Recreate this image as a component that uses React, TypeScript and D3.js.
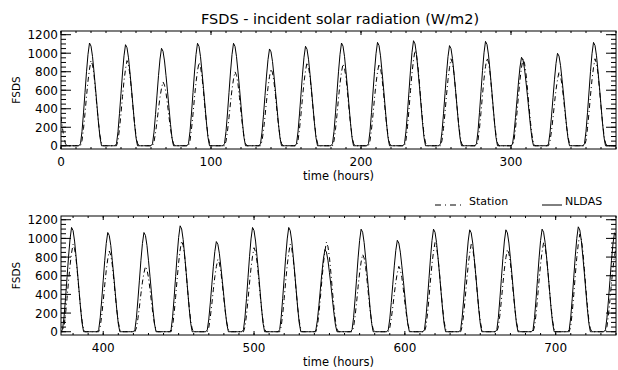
import React from "react";
import * as d3 from "d3";

const W = 618;
const H = 370;

// daily maximum (W/m2), index 0 = tail of the day before hour 0, then one per day
const nldasPeak = [
  0, 1110, 1092, 1053, 1107, 1107, 1046, 1075, 1110, 1117, 1135, 1082, 1128, 956, 999, 1117,
  1117, 1063, 1063, 1135, 966, 1117, 1117, 880, 1099, 980, 1099, 1092, 1092, 1099, 1124, 1060,
];
const stationPeak = [
  700, 920, 920, 690, 900, 800, 830, 900, 885, 885, 1030, 940, 950, 940, 795, 940,
  937, 865, 700, 973, 775, 900, 937, 960, 830, 700, 955, 937, 883, 955, 1045, 900,
];
// fraction of the daily maximum for each hour of the day (0..23)
const nldasShape = [
  0.39, 0.22, 0.08, 0, 0, 0, 0, 0, 0, 0, 0, 0, 0, 0.02, 0.14, 0.32, 0.52, 0.72, 0.89, 1.0, 0.97,
  0.87, 0.72, 0.56,
];
const stationShape = [
  0.45, 0.27, 0.12, 0.03, 0, 0, 0, 0, 0, 0, 0, 0, 0, 0, 0.06, 0.2, 0.38, 0.58, 0.76, 0.9, 1.0,
  0.95, 0.83, 0.65,
];

const yTickValues = [0, 200, 400, 600, 800, 1000, 1200];

const panels = [
  { start: 0, end: 370, top: 31, bottom: 149 },
  { start: 372, end: 740, top: 216, bottom: 335 },
];

const hours = d3.range(0, 744);
const build = (peak: number[], shape: number[]) =>
  hours.map((t) => ({ t, v: peak[Math.floor((t - 8) / 24) + 1] * shape[t % 24] }));

const nldas = build(nldasPeak, nldasShape);
const station = build(stationPeak, stationShape);

const font = "'DejaVu Sans', sans-serif";

const Panel = ({ p, i }: { p: (typeof panels)[0]; i: number }) => {
  const left = 61;
  const right = 616;
  const x = d3.scaleLinear().domain([p.start, p.end]).range([left, right]);
  const y = d3.scaleLinear().domain([-35, 1240]).range([p.bottom, p.top]);
  const line = d3
    .line<{ t: number; v: number }>()
    .x((d) => x(d.t))
    .y((d) => y(d.v));
  const inRange = (d: { t: number }) => d.t >= p.start - 2 && d.t <= p.end + 2;

  const xMajor = d3.range(Math.ceil(p.start / 100) * 100, p.end + 1, 100);
  const xMinor = d3.range(Math.ceil(p.start / 10) * 10, p.end + 1, 10);
  const yMinor = d3.range(0, 1201, 50);

  return (
    <g>
      <defs>
        <clipPath id={`clip${i}`}>
          <rect x={left} y={p.top} width={right - left} height={p.bottom - p.top} />
        </clipPath>
      </defs>
      <g clipPath={`url(#clip${i})`} fill="none" stroke="#000" strokeWidth={1}>
        <path d={line(station.filter(inRange)) || ""} strokeDasharray="5,3,1,3" />
        <path d={line(nldas.filter(inRange)) || ""} />
      </g>
      <rect
        x={left}
        y={p.top}
        width={right - left}
        height={p.bottom - p.top}
        fill="none"
        stroke="#000"
      />
      <g stroke="#000" strokeWidth={1}>
        {xMinor.map((t) => (
          <g key={"xm" + t}>
            <line x1={x(t)} x2={x(t)} y1={p.bottom} y2={p.bottom - 2} />
            <line x1={x(t)} x2={x(t)} y1={p.top} y2={p.top + 2} />
          </g>
        ))}
        {xMajor.map((t) => (
          <g key={"xM" + t}>
            <line x1={x(t)} x2={x(t)} y1={p.bottom} y2={p.bottom - 4} />
            <line x1={x(t)} x2={x(t)} y1={p.top} y2={p.top + 4} />
          </g>
        ))}
        {yMinor.map((v) => (
          <g key={"ym" + v}>
            <line x1={left} x2={left + 5} y1={y(v)} y2={y(v)} />
            <line x1={right} x2={right - 5} y1={y(v)} y2={y(v)} />
          </g>
        ))}
        {yTickValues.map((v) => (
          <g key={"yM" + v}>
            <line x1={left} x2={left + 10} y1={y(v)} y2={y(v)} />
            <line x1={right} x2={right - 10} y1={y(v)} y2={y(v)} />
          </g>
        ))}
      </g>
      <g fontFamily={font} fontSize={12} fill="#000">
        {xMajor.map((t) => (
          <text key={"xl" + t} x={x(t)} y={p.bottom + 17} textAnchor="middle">
            {t}
          </text>
        ))}
        {yTickValues.map((v) => (
          <text key={"yl" + v} x={left - 3} y={y(v) + 4.5} textAnchor="end">
            {v}
          </text>
        ))}
        <text x={(left + right) / 2} y={p.bottom + 31} textAnchor="middle" fontSize={11.5}>
          time (hours)
        </text>
        <text
          transform={`translate(20,${(p.top + p.bottom) / 2}) rotate(-90)`}
          textAnchor="middle"
          fontSize={10.5}
        >
          FSDS
        </text>
      </g>
    </g>
  );
};

export default function App() {
  return (
    <svg
      width={W}
      height={H}
      style={{ position: "absolute", left: 0, top: 0, background: "#fff" }}
    >
      <rect width={W} height={H} fill="#fff" />
      <text x={340} y={24} textAnchor="middle" fontFamily={font} fontSize={14.5} fill="#000">
        FSDS - incident solar radiation (W/m2)
      </text>
      {panels.map((p, i) => (
        <Panel key={i} p={p} i={i} />
      ))}
      {/* legend */}
      <g stroke="#000" strokeWidth={1}>
        <line x1={435} x2={465} y1={205} y2={205} strokeDasharray="6,4,1,4" />
        <line x1={542} x2={562} y1={205} y2={205} />
      </g>
      <g fontFamily={font} fontSize={11} fill="#000">
        <text x={469} y={205}>Station</text>
        <text x={565} y={205}>NLDAS</text>
      </g>
    </svg>
  );
}
